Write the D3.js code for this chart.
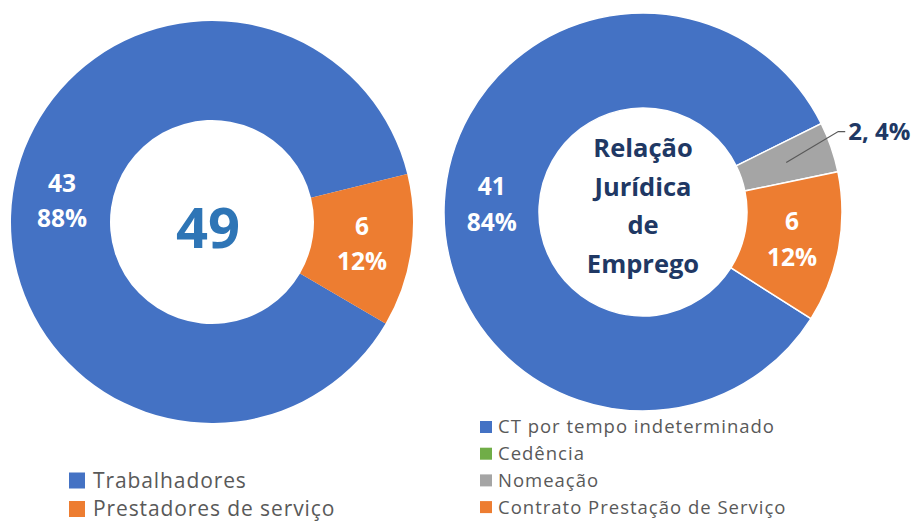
<!DOCTYPE html>
<html><head><meta charset="utf-8">
<script src="https://cdn.jsdelivr.net/npm/d3@7"></script>
<style>body{margin:0;background:#fff}svg{display:block}</style>
</head><body>
<svg id="c" width="915" height="522"></svg>
<script>
const leftCategories = ["Trabalhadores", "Prestadores de serviço"];
const leftValues = [43, 6];
const leftPercents = ["88%", "12%"];
const leftColors = ["#4472C4", "#ED7D31"];

const rightCategories = ["CT por tempo indeterminado", "Cedência", "Nomeação", "Contrato Prestação de Serviço"];
const rightValues = [41, 0, 2, 6];
const rightPercents = ["84%", "0%", "4%", "12%"];
const rightColors = ["#4472C4", "#70AD47", "#A5A5A5", "#ED7D31"];
const rightCenterText = ["Relação", "Jurídica", "de", "Emprego"];

const svg = d3.select("#c");
const deg = Math.PI / 180;
const labelFont = "'Open Sans', 'Noto Sans', sans-serif";
const legendFont = "'Open Sans', 'Noto Sans', sans-serif";

// ---------- LEFT DONUT ----------
{
  const cx = 212, cy = 222, ro = 201, ri = 102;
  const start = 120.3 * deg;
  const pie = d3.pie().sort(null).startAngle(start).endAngle(start + 2 * Math.PI);
  const arcs = pie(leftValues);
  const arc = d3.arc().innerRadius(ri).outerRadius(ro);
  const g = svg.append("g").attr("transform", `translate(${cx},${cy})`);
  g.selectAll("path").data(arcs).join("path")
    .attr("d", arc).attr("fill", (d, i) => leftColors[i]);
  arcs.forEach((d, i) => {
    const [x, y] = arc.centroid(d);
    const t = g.append("text").attr("text-anchor", "middle")
      .attr("font-family", labelFont).attr("font-weight", 700)
      .attr("font-size", 24.5).attr("fill", "#fff");
    t.append("tspan").attr("x", x).attr("y", y - 17.5).attr("dy", "0.36em").text(leftValues[i]);
    t.append("tspan").attr("x", x).attr("y", y + 17.5).attr("dy", "0.36em").text(leftPercents[i]);
  });
  g.append("text").attr("x", -4).attr("y", 6).attr("dy", "0.36em")
    .attr("text-anchor", "middle").attr("font-family", labelFont)
    .attr("font-weight", 700).attr("font-size", 56).attr("fill", "#2E75B6")
    .text(d3.sum(leftValues));

  const lg = svg.append("g").attr("transform", "translate(69,480.5)");
  leftCategories.forEach((c, i) => {
    const row = lg.append("g").attr("transform", `translate(0,${i * 28.5})`);
    row.append("rect").attr("x", 0).attr("y", -8).attr("width", 16).attr("height", 16).attr("fill", leftColors[i]);
    row.append("text").attr("x", 24).attr("y", 0).attr("dy", "0.35em")
      .attr("font-family", legendFont).attr("font-size", 21).attr("letter-spacing", 0.9)
      .attr("fill", "#595959").text(c);
  });
}

// ---------- RIGHT DONUT ----------
{
  const cx = 643, cy = 212, ro = 199, ri = 104;
  const start = 122.4 * deg;
  const pie = d3.pie().sort(null).startAngle(start).endAngle(start + 2 * Math.PI);
  const arcs = pie(rightValues);
  const arc = d3.arc().innerRadius(ri).outerRadius(ro);
  const g = svg.append("g").attr("transform", `translate(${cx},${cy})`);
  g.selectAll("path").data(arcs.filter(d => d.value > 0)).join("path")
    .attr("d", arc).attr("fill", d => rightColors[d.index])
    .attr("stroke", "#fff").attr("stroke-width", 1.5);
  arcs.forEach((d, i) => {
    if (d.value <= 0) return;
    const [x, y] = arc.centroid(d);
    if (d.value < 4) {
      // outside label with leader line
      const ex = x + 52, ey = y - 31;
      g.append("path").attr("d", `M${x},${y}L${ex},${ey}L${ex + 7},${ey}`)
        .attr("fill", "none").attr("stroke", "#595959").attr("stroke-width", 1.2);
      g.append("text").attr("x", ex + 10).attr("y", ey).attr("dy", "0.36em")
        .attr("font-family", labelFont).attr("font-weight", 700).attr("font-size", 24)
        .attr("fill", "#203864").text(`${rightValues[i]}, ${rightPercents[i]}`);
    } else {
      const t = g.append("text").attr("text-anchor", "middle")
        .attr("font-family", labelFont).attr("font-weight", 700)
        .attr("font-size", 24.5).attr("fill", "#fff");
      t.append("tspan").attr("x", x).attr("y", y - 18).attr("dy", "0.36em").text(rightValues[i]);
      t.append("tspan").attr("x", x).attr("y", y + 18).attr("dy", "0.36em").text(rightPercents[i]);
    }
  });
  const ct = g.append("text").attr("text-anchor", "middle")
    .attr("font-family", labelFont).attr("font-weight", 700)
    .attr("font-size", 25.5).attr("fill", "#203864");
  rightCenterText.forEach((s, i) => {
    ct.append("tspan").attr("x", 0).attr("y", -64 + i * 38.5).attr("dy", "0.36em").text(s);
  });

  const lg = svg.append("g").attr("transform", "translate(480,427)");
  rightCategories.forEach((c, i) => {
    const row = lg.append("g").attr("transform", `translate(0,${i * 26.7})`);
    row.append("rect").attr("x", 0).attr("y", -6).attr("width", 12).attr("height", 12).attr("fill", rightColors[i]);
    row.append("text").attr("x", 18).attr("y", 0).attr("dy", "0.35em")
      .attr("font-family", legendFont).attr("font-size", 18.5).attr("letter-spacing", 1)
      .attr("fill", "#595959").text(c);
  });
}
</script>
</body></html>
